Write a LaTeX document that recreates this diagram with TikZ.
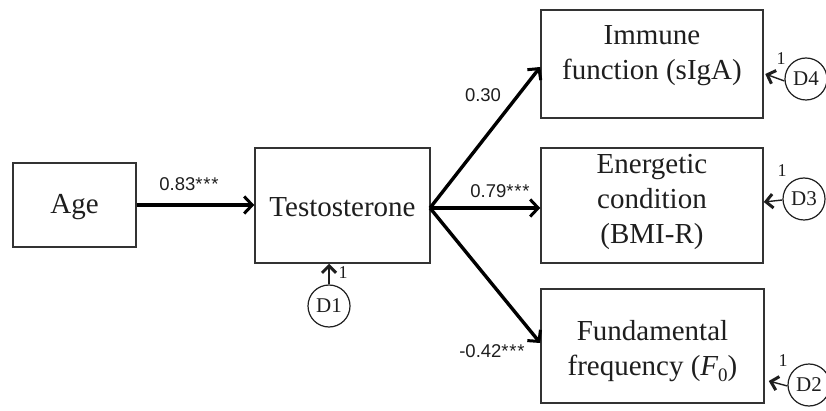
\documentclass[tikz,border=0pt]{standalone}
\usepackage{fontspec}
\setmainfont{Liberation Serif}
\newfontfamily\numfont{Liberation Sans}
\usetikzlibrary{arrows.meta,calc}
\definecolor{ink}{HTML}{1E1E1E}
\definecolor{boxline}{HTML}{333333}
\newcommand{\stars}{*\kern0.8pt*\kern0.8pt*}
\tikzset{
  varbox/.style={draw=boxline, line width=1.5pt, rectangle, inner sep=0pt},
  boxtext/.style={text=ink, align=center, font=\fontsize{29}{35}\selectfont, inner sep=0pt},
  mainarrow/.style={draw=black, line width=3.4pt, -{Straight Barb[length=8pt,width=17pt,line width=3pt]}},
  darrow/.style={draw=ink, line width=1.4pt, -{Straight Barb[length=7pt,width=14pt,line width=3pt]}},
  dcirc/.style={draw=ink, line width=1.2pt, circle, minimum size=42pt, inner sep=0pt, text=ink, font=\fontsize{21}{21}\selectfont},
  coef/.style={text=ink, font=\numfont\fontsize{18.5}{18.5}\selectfont, inner sep=0pt},
  one/.style={text=ink, font=\fontsize{18}{18}\selectfont, inner sep=0pt}
}
\begin{document}
\begin{tikzpicture}[x=1pt,y=-1pt]
\useasboundingbox (0,0) rectangle (826,411);
\clip (0,0) rectangle (826,411);
% boxes
\node[varbox, minimum width=123pt, minimum height=84pt] (age) at (74.5,205) {};
\node[varbox, minimum width=175pt, minimum height=115pt] (testo) at (342.5,205.5) {};
\node[varbox, minimum width=222pt, minimum height=108pt] (imm) at (652,64) {};
\node[varbox, minimum width=222pt, minimum height=115pt] (ene) at (652,205.5) {};
\node[varbox, minimum width=223pt, minimum height=114pt] (fund) at (652.5,346) {};
% box texts
\node[boxtext] (agetxt) at (74.5,207) {Age};
\node[boxtext] (testotxt) at (342.5,207) {Testosterone};
\node[boxtext] (immtxt) at (652,56) {Immune\\function (sIgA)};
\node[boxtext] (enetxt) at (652,202) {Energetic\\condition\\(BMI-R)};
\node[boxtext] (fundtxt) at (652.5,351) {Fundamental\\frequency ({\itshape F}\raisebox{-0.22em}{\fontsize{19}{19}\selectfont 0})};
% disturbances
\node[dcirc] (d1) at (329,306) {D1};
\node[dcirc] (d4) at (806,79) {D4};
\node[dcirc] (d3) at (804,199) {D3};
\node[dcirc] (d2) at (809,385) {D2};
% main arrows
\coordinate (br) at (430,208);
\draw[mainarrow] (age.east) -- (age.east -| testo.west);
\draw[mainarrow] (br) -- ([yshift=-3pt]imm.west);
\draw[mainarrow] (br) -- ([yshift=-2.5pt]ene.west);
\draw[mainarrow] (br) -- ([yshift=3pt]fund.west);
% disturbance arrows
\draw[darrow] (d1.north) -- (d1.north |- testo.south);
\draw[darrow] ($(d4.west)+(0,2)$) -- ($(imm.east |- d4.west)+(1.5,-5)$);
\draw[darrow] ($(d3.west)+(0,1)$) -- ($(ene.east |- d3.west)+(0,3)$);
\draw[darrow] ($(d2.west)+(0,1)$) -- ($(fund.east |- d2.west)+(4,-4)$);
% coefficients
\node[coef] (c1) at (189,184) {0.83\stars};
\node[coef] (c2) at (483,95) {0.30};
\node[coef] (c3) at (500,191) {0.79\stars};
\node[coef] (c4) at (492,351) {-0.42\stars};
% ones
\node[one] (o1) at (343,273) {1};
\node[one] (o4) at (781,59) {1};
\node[one] (o3) at (782,171) {1};
\node[one] (o2) at (783,361) {1};
\end{tikzpicture}
\end{document}
